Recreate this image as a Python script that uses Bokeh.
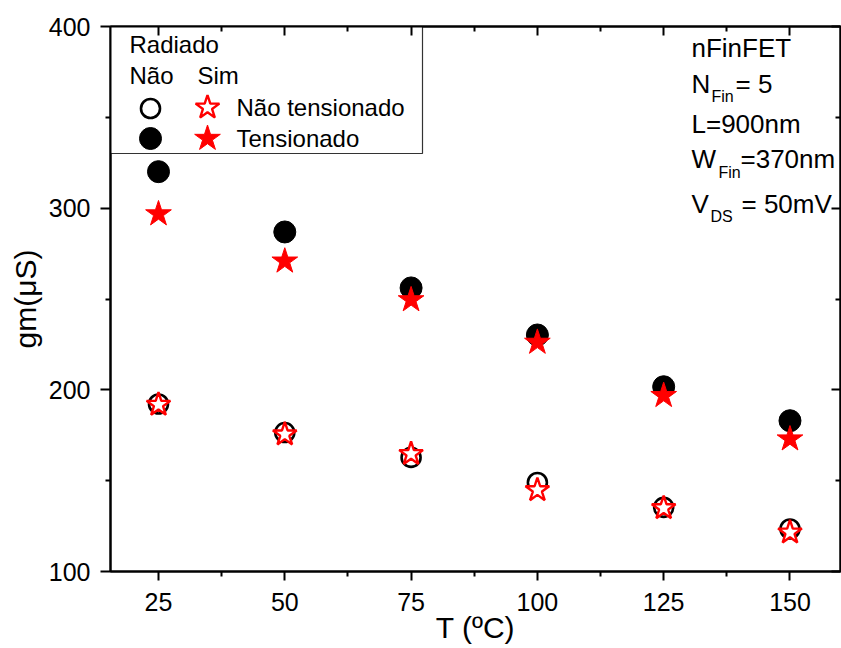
from bokeh.plotting import figure
from bokeh.models import LinearAxis, Range1d, FixedTicker
from bokeh.core.properties import value
from bokeh.embed import file_html
from bokeh.resources import INLINE

# ---- data ----
temps = [25, 50, 75, 100, 125, 150]
nao_nao_tens = [192.2, 176.5, 162.8, 149.0, 135.3, 123.4]   # open circle
nao_tens = [320.1, 286.9, 256.1, 230.2, 201.7, 183.0]       # filled circle
sim_nao_tens = [191.8, 175.5, 164.7, 144.8, 134.9, 121.5]   # open star
sim_tens = [296.8, 270.8, 249.5, 226.1, 196.8, 172.9]       # filled star
x_ticks = [25, 50, 75, 100, 125, 150]
y_ticks = [100, 200, 300, 400]

FONT_NAME = "Liberation Sans"
FONT = value(FONT_NAME)
XMIN, XMAX, YMIN, YMAX = 15.5, 160, 100, 400

p = figure(width=841, height=648, output_backend="svg", toolbar_location=None,
           x_range=Range1d(XMIN, XMAX), y_range=Range1d(YMIN, YMAX),
           min_border_left=110, min_border_right=1, min_border_top=26, min_border_bottom=77,
           x_axis_label="T (ºC)", y_axis_label="gm(μS)")
p.grid.visible = False
p.outline_line_color = "black"
p.outline_line_width = 2
p.background_fill_color = "white"
p.border_fill_color = "white"

def minor_of(ticks):
    step = ticks[1] - ticks[0]
    return [t + step / 2 for t in [ticks[0] - step] + ticks]

for ax, ticks in ((p.xaxis[0], x_ticks), (p.yaxis[0], y_ticks)):
    ax.ticker = FixedTicker(ticks=ticks, minor_ticks=minor_of(ticks))
    ax.axis_line_width = 2
    ax.major_tick_line_width = 2
    ax.minor_tick_line_width = 2
    ax.major_tick_in = 0
    ax.major_tick_out = 9
    ax.minor_tick_in = 0
    ax.minor_tick_out = 5
    ax.major_label_text_font = FONT_NAME
    ax.major_label_text_font_size = "25px"
    ax.major_label_text_color = "black"
    ax.axis_label_text_font = FONT_NAME
    ax.axis_label_text_font_size = "30px"
    ax.axis_label_text_font_style = "normal"
    ax.axis_label_text_color = "black"

p.xaxis[0].major_label_standoff = 12
p.xaxis[0].axis_label_standoff = -3
p.yaxis[0].major_tick_out = 10
p.yaxis[0].major_label_standoff = 10
p.yaxis[0].axis_label_standoff = 4

for loc, ticks in (("right", y_ticks), ("above", x_ticks)):
    ax = LinearAxis()
    ax.ticker = FixedTicker(ticks=ticks, minor_ticks=minor_of(ticks))
    ax.axis_line_width = 2
    ax.major_tick_line_width = 2
    ax.minor_tick_line_width = 2
    ax.major_tick_in = 9
    ax.major_tick_out = 0
    ax.minor_tick_in = 5
    ax.minor_tick_out = 0
    ax.major_label_text_font_size = "0px"
    ax.major_label_standoff = 0
    ax.axis_label = None
    p.add_layout(ax, loc)

# helper: pixel position (page px) -> data coords for legend/annotation layout
FL, FT, FW, FH = 110, 26, 730, 545
def dx(px):
    return XMIN + (px - FL) * (XMAX - XMIN) / FW
def dy(py):
    return YMAX - (py - FT) * (YMAX - YMIN) / FH

# legend box
p.quad(left=[dx(108)], right=[dx(422)], top=[dy(26)], bottom=[dy(153)],
       fill_color="white", line_color="#333333", line_width=1.2)

# data markers
p.scatter(temps, nao_nao_tens, marker="circle", size=19, fill_color="white",
          line_color="black", line_width=2.6)
p.scatter(temps, nao_tens, marker="circle", size=22, fill_color="black", line_color="black")
p.scatter(temps, sim_nao_tens, marker="star", size=25, fill_color="white",
          line_color="red", line_width=2.4)
p.scatter(temps, sim_tens, marker="star", size=27, fill_color="red", line_color="red")

# legend contents (py = visual baseline in page px)
def txt(px, py, s, size):
    fs = float(size.replace("px", ""))
    p.text(x=[dx(px)], y=[dy(py - 0.37 * fs)], text=[s], text_font=FONT,
           text_font_size=value(size),
           text_align="left", text_baseline="alphabetic", text_color="black")

txt(129, 53, "Radiado", "24px")
txt(129, 84, "Não", "24px")
txt(197, 84, "Sim", "24px")
p.scatter([dx(150)], [dy(108)], marker="circle", size=19, fill_color="white",
          line_color="black", line_width=2.6)
p.scatter([dx(207)], [dy(107)], marker="star", size=25, fill_color="white",
          line_color="red", line_width=2.4)
txt(236, 116, "Não tensionado", "24px")
p.scatter([dx(150)], [dy(138)], marker="circle", size=22, fill_color="black", line_color="black")
p.scatter([dx(207)], [dy(138)], marker="star", size=27, fill_color="red", line_color="red")
txt(236, 147, "Tensionado", "24px")

# annotation
txt(691, 57, "nFinFET", "26px")
txt(691, 93, "N", "26px")
txt(711, 102, "Fin", "16px")
txt(735, 93, "= 5", "26px")
txt(691, 133, "L=900nm", "26px")
txt(691, 168, "W", "26px")
txt(718, 178, "Fin", "16px")
txt(740, 168, "=370nm", "26px")
txt(691, 213, "V", "26px")
txt(710, 222, "DS", "16px")
txt(741, 213, "= 50mV", "26px")

open("out.html", "w").write(file_html(p, INLINE))
